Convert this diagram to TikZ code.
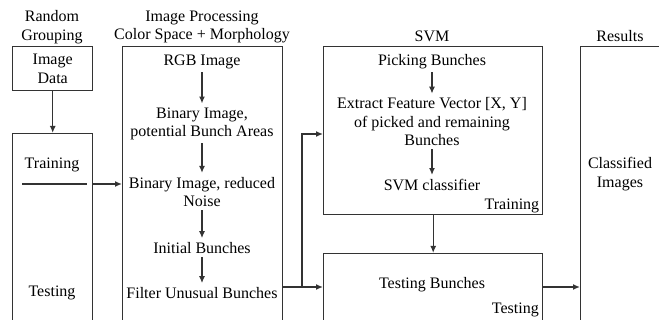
\documentclass[tikz,border=0pt]{standalone}
\usepackage{fontspec}
\setmainfont{Liberation Serif}
\usetikzlibrary{arrows.meta,calc}
\definecolor{linec}{HTML}{333333}
\begin{document}
\begin{tikzpicture}[x=1pt,y=-1pt,
  every node/.style={font=\fontsize{16}{18.5}\selectfont, inner sep=1pt, align=center, text=black},
  frame/.style={draw=linec, line width=1.4pt, rectangle, anchor=north west, inner sep=0pt},
  plain/.style={draw=linec, line width=1.4pt},
  conn/.style={draw=linec, line width=1.4pt, -{Latex[length=7pt,width=6pt]}},
  step arrow/.style={conn, shorten <=2pt, shorten >=3pt}]
\useasboundingbox (0,0) rectangle (659,320);
\clip (0,0) rectangle (659,320);
% frames
\node[frame, minimum width=80pt, minimum height=44pt] (fdata) at (12,46) {};
\node[frame, minimum width=80pt, minimum height=230pt] (fgroup) at (12,133) {};
\node[frame, minimum width=160pt, minimum height=320pt] (fproc) at (122,46) {};
\node[frame, minimum width=219pt, minimum height=168pt] (fsvm) at (323,46) {};
\node[frame, minimum width=219pt, minimum height=120pt] (ftest) at (323,253) {};
\node[frame, minimum width=120pt, minimum height=320pt] (fres) at (580,46) {};
% titles
\node (tgroup) at (52,27) {Random\\Grouping};
\node (tproc) at (202,27) {Image Processing\\Color Space + Morphology};
\node (tsvm) at (432,36) {SVM};
\node (tres) at (620,36) {Results};
% grouping
\node (data) at (fdata.center) {Image\\Data};
\node (train) at (52,165) {Training};
\node (test) at (52,293) {Testing};
\coordinate (ul1) at (22,184);
\coordinate (ul2) at (87,184);
\draw[plain] (ul1) -- (ul2);
% processing
\node (rgb) at (202,62) {RGB Image};
\node (bin1) at (202,124) {Binary Image,\\potential Bunch Areas};
\node (bin2) at (202,192) {Binary Image, reduced\\Noise};
\node (init) at (202,248) {Initial Bunches};
\node (filt) at (202,293) {Filter Unusual Bunches};
% svm
\node (pick) at (432,62) {Picking Bunches};
\node (feat) at (432,122) {Extract Feature Vector [X, Y]\\of picked and remaining\\Bunches};
\node (clf) at (432,185) {SVM classifier};
\node[anchor=south east] (trlab) at ($(fsvm.south east)+(-3,-1)$) {Training};
\node (tbun) at (432,285) {Testing Bunches};
\node[anchor=east] (telab) at (540,310) {Testing};
\node (cls) at (620,174) {Classified\\Images};
% connectors
\draw[conn] (fdata.south) -- (fgroup.north);
\draw[conn] (fgroup.east |- ul1) -- (fproc.west |- ul1);
\draw[step arrow] (rgb) -- (bin1);
\draw[step arrow] (bin1) -- (bin2);
\draw[step arrow] (bin2) -- (init);
\draw[step arrow] (init) -- (filt);
\draw[step arrow] (pick) -- (feat);
\draw[step arrow] (feat) -- (clf);
\coordinate (j) at (302,287);
\draw[conn] (fproc.east |- j) -- (ftest.west |- j);
\draw[conn] (j) |- (fsvm.west |- 0,134);
\draw[conn] (fsvm.south) -- (ftest.north);
\draw[conn] (ftest.east |- j) -- (fres.west |- j);
\end{tikzpicture}
\end{document}
